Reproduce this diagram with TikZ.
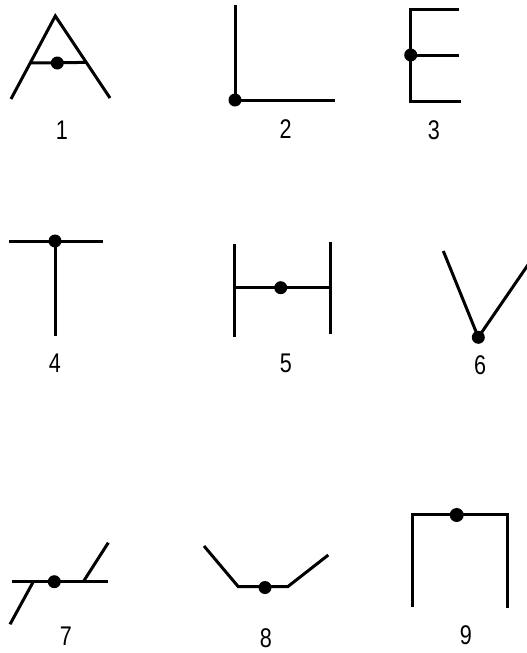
\documentclass[tikz,border=0pt]{standalone}
\usetikzlibrary{calc}
\usepackage{fontspec}
\newfontfamily\labfont[FakeStretch=0.8]{Liberation Sans}
\begin{document}
\begin{tikzpicture}[x=1pt,y=-1pt,
  stroke/.style={line width=3pt,line join=miter},
  jdot/.style={circle,fill=black,inner sep=0pt,minimum size=13pt},
  numlab/.style={font=\labfont\fontsize{27}{30}\selectfont,inner sep=0pt}]
\useasboundingbox (0,0) rectangle (527,653);
\clip (0,0) rectangle (527,653);
% ---- Figure 1 (A)
\coordinate (a1) at (55.3,16);
\coordinate (a1l) at (11,99);
\coordinate (a1r) at (110,98);
\coordinate (a1cl) at ($(a1)!0.566!(a1l)$);
\coordinate (a1cr) at ($(a1)!0.566!(a1r)$);
\draw[stroke] (a1l) -- (a1) -- (a1r);
\draw[stroke] (a1cl) -- (a1cr);
\node[jdot] (d1) at (57.3,63) {};
\node[numlab] (l1) at (62,130) {1};
% ---- Figure 2 (L)
\coordinate (b2t) at (235,5);
\coordinate (b2c) at (235,100);
\coordinate (b2r) at (335,100);
\draw[stroke] (b2t) -- (b2c) -- (b2r);
\node[jdot] (d2) at (b2c) {};
\node[numlab] (l2) at (285.7,129) {2};
% ---- Figure 3 (E)
\coordinate (e3tr) at (459,9.3);
\coordinate (e3tl) at (410.7,9.3);
\coordinate (e3bl) at (410.7,101.7);
\coordinate (e3br) at (461,101.7);
\coordinate (e3m) at (410.7,55);
\coordinate (e3mr) at (459,55);
\draw[stroke] (e3tr) -- (e3tl) -- (e3bl) -- (e3br);
\draw[stroke] (e3m) -- (e3mr);
\node[jdot] (d3) at (e3m) {};
\node[numlab] (l3) at (434,130) {3};
% ---- Figure 4 (T)
\coordinate (t4l) at (9,241);
\coordinate (t4r) at (103,241);
\coordinate (t4c) at (55,241);
\coordinate (t4b) at (55,336);
\draw[stroke] (t4l) -- (t4r);
\draw[stroke] (t4c) -- (t4b);
\node[jdot] (d4) at (t4c) {};
\node[numlab] (l4) at (55,363) {4};
% ---- Figure 5 (H)
\coordinate (h5lt) at (234.7,244);
\coordinate (h5lb) at (234.7,336.7);
\coordinate (h5rt) at (330,242);
\coordinate (h5rb) at (330,334);
\coordinate (h5ml) at (234.7,287.7);
\coordinate (h5mr) at (330,287.7);
\draw[stroke] (h5lt) -- (h5lb);
\draw[stroke] (h5rt) -- (h5rb);
\draw[stroke] (h5ml) -- (h5mr);
\node[jdot] (d5) at (280.7,287.7) {};
\node[numlab] (l5) at (286,363) {5};
% ---- Figure 6 (V)
\coordinate (v6l) at (443.3,251);
\coordinate (v6c) at (478.3,337.3);
\coordinate (v6r) at (532,259);
\draw[stroke] (v6l) -- (v6c) -- (v6r);
\node[jdot] (d6) at (v6c) {};
\node[numlab] (l6) at (480,365) {6};
% ---- Figure 7
\coordinate (s7l) at (11.7,581.7);
\coordinate (s7r) at (108.3,581.7);
\coordinate (s7a) at (33.3,581.7);
\coordinate (s7al) at (10,624.3);
\coordinate (s7b) at (83.3,581.7);
\coordinate (s7bu) at (108.3,542.7);
\draw[stroke] (s7l) -- (s7r);
\draw[stroke] (s7a) -- (s7al);
\draw[stroke] (s7b) -- (s7bu);
\node[jdot] (d7) at (54.3,581.7) {};
\node[numlab] (l7) at (66,636.7) {7};
% ---- Figure 8
\coordinate (w8a) at (204,546);
\coordinate (w8b) at (238.3,586.7);
\coordinate (w8c) at (287.7,586.7);
\coordinate (w8d) at (328.3,555);
\draw[stroke] (w8a) -- (w8b) -- (w8c) -- (w8d);
\node[jdot] (d8) at (265,587.5) {};
\node[numlab] (l8) at (266,638.3) {8};
% ---- Figure 9
\coordinate (p9lb) at (412.3,607.3);
\coordinate (p9lt) at (412.3,514);
\coordinate (p9rt) at (507.8,514);
\coordinate (p9rb) at (507.8,608.3);
\draw[stroke] (p9lb) -- (p9lt) -- (p9rt) -- (p9rb);
\node[jdot,minimum size=14pt] (d9) at (456.7,515) {};
\node[numlab] (l9) at (466,635) {9};
\end{tikzpicture}
\end{document}
